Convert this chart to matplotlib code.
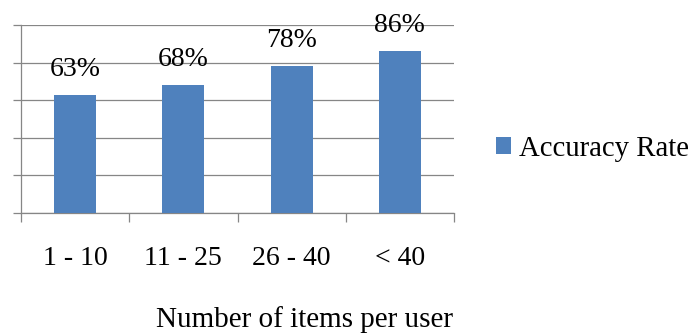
import numpy as np
import matplotlib
matplotlib.use("Agg")
import matplotlib.pyplot as plt

# data
categories = ["1 - 10", "11 - 25", "26 - 40", "< 40"]
accuracy = [63, 68, 78, 86]
series_name = "Accuracy Rate"

plt.rcParams['font.family'] = ['Liberation Serif', 'DejaVu Serif']
plt.rcParams['font.size'] = 20

W, H = 692, 336
fig = plt.figure(figsize=(W/100, H/100), dpi=100)
ax = fig.add_axes([21/W, (H-213)/H, (454-21)/W, (213-25)/H])

x = np.arange(len(categories))
bars = ax.bar(x, accuracy, width=0.39, color="#4F81BD", label=series_name, zorder=3)

# value labels above the bars
for xi, v in zip(x, accuracy):
    ax.annotate("%d%%" % v, (xi, v), xytext=(0, 13.7), textcoords="offset points",
                ha="center", va="baseline", fontsize=20, color="black")

ax.set_ylim(0, 100)
ax.set_xlim(-0.5, len(categories)-0.5)
ax.set_yticks(np.arange(0, 101, 20))
ax.set_yticklabels([])
ax.yaxis.grid(True, color="#868686", linewidth=0.9, zorder=0)
ax.tick_params(axis="y", length=6, width=0.9, color="#868686", direction="out")

ax.set_xticks(x)
ax.set_xticklabels(categories)
ax.set_xticks(np.arange(-0.5, len(categories), 1.0), minor=True)
ax.tick_params(axis="x", which="major", length=0, pad=24)
ax.tick_params(axis="x", which="minor", length=6.5, width=0.9, color="#868686", direction="out")

for s in ["top", "right"]:
    ax.spines[s].set_visible(False)
for s in ["left", "bottom"]:
    ax.spines[s].set_color("#868686")
    ax.spines[s].set_linewidth(0.9)

fig.legend(loc="center left", bbox_to_anchor=(496/W, 1-149/H), frameon=False,
           borderpad=0, borderaxespad=0, handlelength=0.52, handleheight=0.52,
           handletextpad=0.28, fontsize=20.7)

fig.text(305/W, 1-327/H, "Number of items per user", ha="center", va="baseline", fontsize=21)

plt.savefig("out.png", dpi=100)
